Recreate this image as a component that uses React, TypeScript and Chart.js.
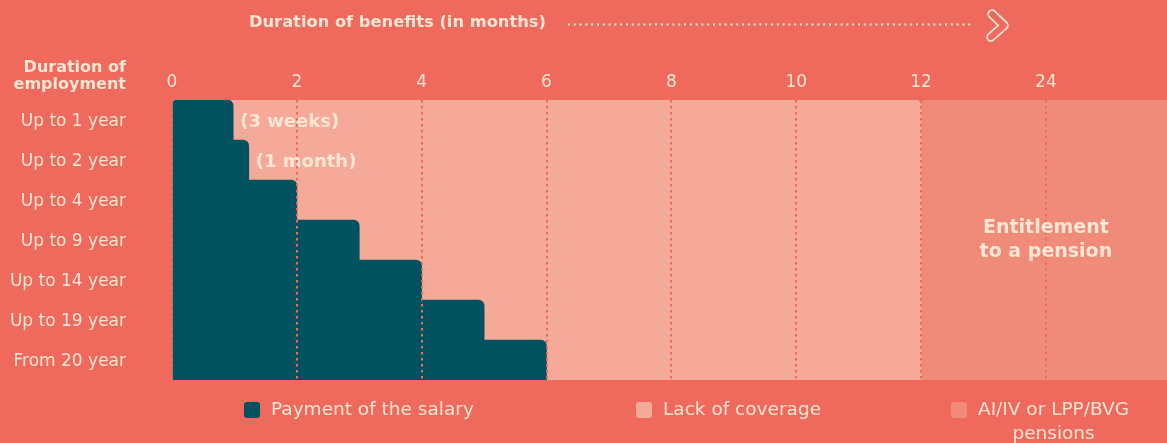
import React, { useEffect, useRef } from 'react';
import { Chart, registerables } from 'chart.js';

Chart.register(...registerables);

// ---- data ----
const rowLabels = ['Up to 1 year', 'Up to 2 year', 'Up to 4 year', 'Up to 9 year', 'Up to 14 year', 'Up to 19 year', 'From 20 year'];
const salaryMonths = [0.98, 1.23, 2, 3, 4, 5, 6];
const coverageRange = [0, 12];
const pensionRange = [12, 16];
const xTickLabels = ['0', '2', '4', '6', '8', '10', '12', '24'];
const barNotes = ['(3 weeks)', '(1 month)', '', '', '', '', ''];
const seriesNames = ['Payment of the salary', 'Lack of coverage', 'AI/IV or LPP/BVG pensions'];
const xTitle = 'Duration of benefits (in months)';
const yTitleLines = ['Duration of', 'employment'];
const pensionNoteLines = ['Entitlement', 'to a pension'];

// ---- style ----
const BG = '#EF695C';
const TEAL = '#01525F';
const LIGHT = '#F4A999';
const PENSION = '#F08A79';
const CREAM = '#FEE6D4';
const FONT = '"DejaVu Sans", sans-serif';

const overlay = {
  id: 'overlay',
  afterDatasetsDraw(chart: any) {
    const ctx = chart.ctx;
    const meta = chart.getDatasetMeta(0);
    ctx.save();
    ctx.fillStyle = CREAM;
    ctx.font = `700 18px ${FONT}`;
    ctx.textAlign = 'left';
    ctx.textBaseline = 'middle';
    barNotes.forEach((n, i) => {
      if (!n) return;
      const el = meta.data[i];
      ctx.fillText(n, el.x + 7, el.y + 2);
    });
    ctx.restore();
  },
  afterDraw(chart: any) {
    const ctx = chart.ctx;
    const area = chart.chartArea;
    const xs = chart.scales.x;
    ctx.save();
    ctx.fillStyle = CREAM;
    ctx.textBaseline = 'middle';

    // top title
    ctx.font = `700 16.3px ${FONT}`;
    ctx.textAlign = 'left';
    ctx.fillText(xTitle, 249, 23);
    // dotted arrow line
    ctx.beginPath();
    ctx.strokeStyle = CREAM;
    ctx.lineWidth = 2;
    ctx.setLineDash([2, 3.8]);
    ctx.moveTo(568, 24.5);
    ctx.lineTo(974, 24.5);
    ctx.stroke();
    ctx.setLineDash([]);
    // chevron outline
    ctx.lineCap = 'round';
    ctx.lineJoin = 'round';
    ctx.beginPath();
    ctx.moveTo(992, 14);
    ctx.lineTo(1004, 25.5);
    ctx.lineTo(991, 37);
    ctx.strokeStyle = CREAM;
    ctx.lineWidth = 9.5;
    ctx.stroke();
    ctx.strokeStyle = BG;
    ctx.lineWidth = 6;
    ctx.stroke();

    // y title
    ctx.fillStyle = CREAM;
    ctx.font = `700 16px ${FONT}`;
    ctx.textAlign = 'right';
    ctx.fillText(yTitleLines[0], area.left - 46, 68);
    ctx.fillText(yTitleLines[1], area.left - 46, 85);

    // pension note
    ctx.font = `700 19px ${FONT}`;
    ctx.textAlign = 'center';
    const cx = xs.getPixelForValue(14);
    const cy = (area.top + area.bottom) / 2;
    ctx.fillText(pensionNoteLines[0], cx, cy - 12);
    ctx.fillText(pensionNoteLines[1], cx, cy + 12);

    // legend
    const legendX = [244, 636, 951];
    const ly = 410;
    ctx.font = `400 18.5px ${FONT}`;
    chart.data.datasets.forEach((ds: any, i: number) => {
      const x = legendX[i];
      ctx.fillStyle = ds.backgroundColor;
      ctx.beginPath();
      (ctx as any).roundRect(x, ly - 8, 16, 16, 3);
      ctx.fill();
      ctx.fillStyle = CREAM;
      const words = ds.label.split(' ');
      const lines: string[] = [];
      let cur = '';
      words.forEach((w: string) => {
        const t = cur ? cur + ' ' + w : w;
        if (ctx.measureText(t).width > 1167 - (x + 27) - 10 && cur) {
          lines.push(cur);
          cur = w;
        } else cur = t;
      });
      lines.push(cur);
      if (lines.length === 1) {
        ctx.textAlign = 'left';
        ctx.fillText(lines[0], x + 27, ly);
      } else {
        const w0 = Math.max(...lines.map((l) => ctx.measureText(l).width));
        ctx.textAlign = 'center';
        lines.forEach((l, k) => ctx.fillText(l, x + 27 + w0 / 2, ly + k * 24));
      }
    });
    ctx.restore();
  },
};

export default function App() {
  const ref = useRef<HTMLCanvasElement>(null);
  useEffect(() => {
    document.body.style.margin = '0';
    Chart.defaults.font.family = FONT;
    const chart = new Chart(ref.current!, {
      type: 'bar',
      data: {
        labels: rowLabels,
        datasets: [
          {
            label: seriesNames[0],
            data: salaryMonths,
            backgroundColor: TEAL,
            borderWidth: 0,
            borderSkipped: false,
            borderRadius: (c: any) => ({ topLeft: c.dataIndex === 0 ? 4 : 0, topRight: 6, bottomLeft: 0, bottomRight: 0 }),
            grouped: false,
            barPercentage: 1,
            categoryPercentage: 1,
          },
          {
            label: seriesNames[1],
            data: rowLabels.map(() => coverageRange),
            backgroundColor: LIGHT,
            borderWidth: 0,
            borderSkipped: false,
            borderRadius: (c: any) => ({ topLeft: 0, topRight: c.dataIndex === 0 ? 6 : 0, bottomLeft: 0, bottomRight: 0 }),
            grouped: false,
            barPercentage: 1,
            categoryPercentage: 1,
          },
          {
            label: seriesNames[2],
            data: rowLabels.map(() => pensionRange),
            backgroundColor: PENSION,
            borderWidth: 0,
            borderSkipped: false,
            borderRadius: (c: any) => ({ topLeft: c.dataIndex === 0 ? 6 : 0, topRight: 0, bottomLeft: 0, bottomRight: 0 }),
            grouped: false,
            barPercentage: 1,
            categoryPercentage: 1,
          },
        ] as any,
      },
      options: {
        indexAxis: 'y',
        animation: false,
        responsive: true,
        maintainAspectRatio: false,
        events: [],
        layout: { padding: { top: 60, bottom: 63, left: 0, right: 0 } },
        plugins: { legend: { display: false }, tooltip: { enabled: false }, title: { display: false } },
        scales: {
          x: {
            type: 'linear',
            position: 'top',
            min: 0,
            max: 15.94,
            afterFit: (s: any) => { s.height = 40; },
            ticks: {
              stepSize: 2,
              includeBounds: false,
              padding: 7,
              color: CREAM,
              font: { size: 17, family: FONT },
              callback: (v: any) => {
                const i = Math.round(Number(v) / 2);
                return Number(v) % 2 === 0 && i < xTickLabels.length ? xTickLabels[i] : '';
              },
            },
            grid: { drawTicks: false, color: '#EE6A5C', lineWidth: 2, z: 1 },
            border: { display: false, dash: [2.5, 3.5] },
          },
          y: {
            type: 'category',
            afterFit: (s: any) => { s.width = 172; },
            ticks: { padding: 46, labelOffset: 1.5, color: CREAM, font: { size: 17, family: FONT } },
            grid: { display: false, drawTicks: false },
            border: { display: false },
          },
        },
      } as any,
      plugins: [overlay],
    });
    return () => chart.destroy();
  }, []);
  return (
    <div style={{ position: 'relative', width: 1167, height: 443, background: BG }}>
      <canvas ref={ref} />
    </div>
  );
}
